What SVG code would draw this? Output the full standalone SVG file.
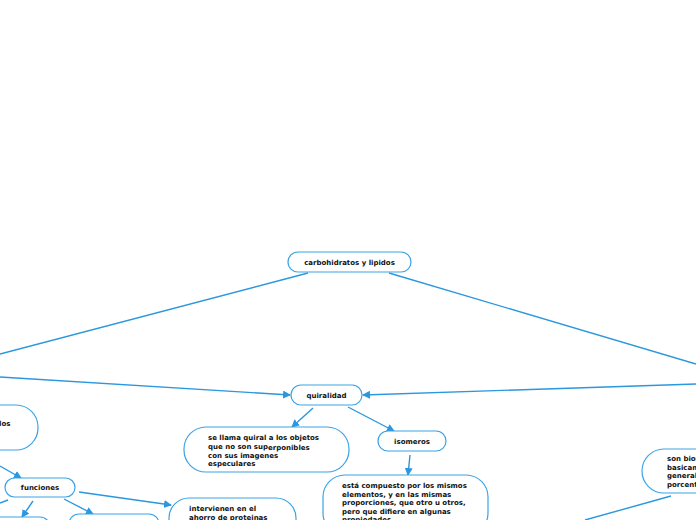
<svg xmlns="http://www.w3.org/2000/svg" width="696" height="520" viewBox="0 0 696 520">
<defs>
<marker id="ah" markerWidth="8" markerHeight="8" refX="7" refY="4" orient="auto" markerUnits="userSpaceOnUse">
<path d="M0,0 L8,4 L0,8 Z" fill="#2a97df"/>
</marker>
<style>
.n{fill:#fff;stroke:#3aa3e6;stroke-width:1.2}
.c{fill:none;stroke:#2a97df;stroke-width:1.4}
.a{marker-end:url(#ah)}
text{font-family:"DejaVu Sans","Verdana",sans-serif;font-weight:bold;font-size:7px;fill:#111}
.m{text-anchor:middle}
</style>
</defs>
<rect width="696" height="520" fill="#fff"/>
<g id="connectors">
<line class="c" x1="308" y1="273" x2="0" y2="354"/>
<line class="c" x1="389" y1="273" x2="696" y2="364"/>
<line class="c a" x1="0" y1="377" x2="290" y2="395"/>
<line class="c a" x1="696" y1="384" x2="363" y2="395"/>
<line class="c a" x1="313" y1="408" x2="292" y2="427"/>
<line class="c a" x1="348" y1="407" x2="394" y2="431"/>
<line class="c a" x1="410" y1="455" x2="408" y2="475"/>
<line class="c a" x1="0" y1="466" x2="21" y2="478"/>
<line class="c" x1="8" y1="500" x2="0" y2="503"/>
<line class="c a" x1="33" y1="501" x2="22" y2="517"/>
<line class="c a" x1="64" y1="499" x2="93" y2="514"/>
<line class="c a" x1="79" y1="492" x2="171" y2="505"/>
<line class="c" x1="671" y1="496" x2="585" y2="520"/>
</g>
<g id="root">
<rect class="n" x="288" y="252" width="123" height="20" rx="10"/>
<text class="m" x="349.5" y="265">carbohidratos y lipidos</text>
</g>
<g id="quiralidad">
<rect class="n" x="291" y="385" width="71" height="20" rx="10"/>
<text class="m" x="326.5" y="398">quiralidad</text>
</g>
<g id="quiral-def">
<rect class="n" x="184" y="427" width="165" height="45" rx="22"/>
<text x="208" y="440">se llama quiral a los objetos</text>
<text x="208" y="448.5">que no son sup<tspan dy="1">erponibles</tspan></text>
<text x="208" y="457.5">con sus imagenes</text>
<text x="208" y="465.5">especulares</text>
</g>
<g id="isomeros">
<rect class="n" x="378" y="431" width="68" height="20" rx="10"/>
<text class="m" x="412" y="444">isomeros</text>
</g>
<g id="isomeros-def">
<rect class="n" x="323" y="475" width="165" height="60" rx="22"/>
<text x="342" y="488">está compuesto por los mismos</text>
<text x="342" y="496.5">elementos, y en las mismas</text>
<text x="342" y="505">proporciones, que otro u otros,</text>
<text x="342" y="513.5">pero que difiere en algunas</text>
<text x="342" y="522">propiedades</text>
</g>
<g id="left-node">
<rect class="n" x="-60" y="405" width="98" height="45" rx="22"/>
<text x="-1" y="426">los</text>
</g>
<g id="funciones">
<rect class="n" x="5" y="478" width="70" height="19" rx="9.5"/>
<text class="m" x="40" y="490">funciones</text>
</g>
<g id="func-a">
<rect class="n" x="-40" y="517" width="90" height="20" rx="10"/>
</g>
<g id="func-b">
<rect class="n" x="69" y="514" width="90" height="20" rx="10"/>
</g>
<g id="func-c">
<rect class="n" x="169" y="498" width="127" height="42" rx="20"/>
<text x="189" y="511">intervienen en el</text>
<text x="189" y="519.5">ahorro de proteinas</text>
</g>
<g id="right-node">
<rect class="n" x="642" y="449" width="90" height="44" rx="22"/>
<text x="667" y="461">son biomoleculas</text>
<text x="667" y="469.5">basicamente</text>
<text x="667" y="478">generalmente</text>
<text x="667" y="486.5">porcentaje</text>
</g>
</svg>
